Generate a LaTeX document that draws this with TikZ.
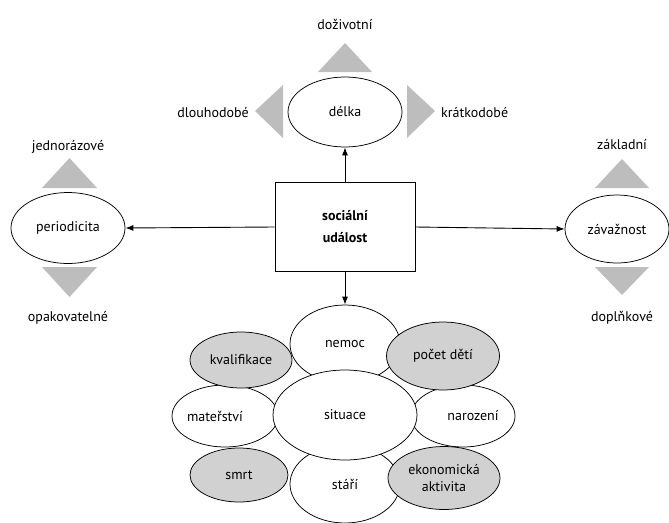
\documentclass[tikz,border=0pt]{standalone}
\usepackage{fontspec}
\setmainfont{PT Sans}
\usetikzlibrary{shapes.geometric,arrows.meta}
\begin{document}
\begin{tikzpicture}[x=1pt,y=-1pt,
  lbl/.style={font=\fontsize{14}{16}\selectfont, inner sep=0pt},
  oval/.style={ellipse, draw, line width=0.75pt, fill=white, inner sep=0pt, font=\fontsize{14}{16}\selectfont, align=center},
  goval/.style={oval, fill=gray!36},
  tri/.style={fill=gray!52, draw=none},
  conn/.style={line width=0.9pt, -{Latex[length=8pt,width=6pt]}}]
\useasboundingbox (0,0) rectangle (669,522);
% central box
\node[draw, line width=0.9pt, minimum width=140pt, minimum height=89pt, align=center,
  font=\fontsize{14}{22}\selectfont\bfseries] (box) at (345,227) {sociální\\událost};
% top
\node[oval, minimum width=114pt, minimum height=70pt] (delka) at (345,112) {délka};
\node[lbl] (doz) at (345,24) {doživotní};
\node[lbl, anchor=east] (dlo) at (249,113) {dlouhodobé};
\node[lbl, anchor=west] (kra) at (441,113) {krátkodobé};
\fill[tri] (318,72) -- (372,72) -- (345,43) -- cycle;
\fill[tri] (283,85) -- (283,138) -- (255,111) -- cycle;
\fill[tri] (407,85) -- (407,138) -- (435,111) -- cycle;
% left
\node[oval, minimum width=114pt, minimum height=71pt] (per) at (68,228) {periodicita};
\node[lbl] (jed) at (68,147) {jednorázové};
\node[lbl] (opa) at (68,318) {opakovatelné};
\fill[tri] (42,188) -- (97,188) -- (69.5,158) -- cycle;
\fill[tri] (42,267) -- (97,267) -- (69.5,297) -- cycle;
% right
\node[oval, minimum width=104pt, minimum height=68pt] (zav) at (617,229) {závažnost};
\node[lbl] (zak) at (622,145) {základní};
\node[lbl] (dop) at (622,318) {doplňkové};
\fill[tri] (595,188) -- (649,188) -- (622,159) -- cycle;
\fill[tri] (595,267) -- (649,267) -- (622,295) -- cycle;
% bottom cluster
\node[oval, minimum width=110pt, minimum height=78pt] (nemoc) at (345,344) {\raisebox{1pt}{nemoc}};
\node[oval, minimum width=110pt, minimum height=78pt] (stari) at (345,484) {\raisebox{-6pt}{stáří}};
\node[oval, minimum width=106pt, minimum height=62pt] (mat) at (225,416) {\hspace*{-20pt}mateřství};
\node[oval, minimum width=104pt, minimum height=62pt] (nar) at (463,416) {\hspace*{20pt}narození};
\node[goval, minimum width=102pt, minimum height=56pt] (kval) at (241,360) {kvalifikace};
\node[goval, minimum width=113pt, minimum height=68pt] (pocet) at (443,356) {počet dětí};
\node[goval, minimum width=98pt, minimum height=54pt] (smrt) at (239,475) {smrt};
\node[goval, minimum width=112pt, minimum height=63pt, font=\fontsize{14}{17}\selectfont] (eko) at (444,478) {ekonomická\\aktivita};
\node[oval, minimum width=144pt, minimum height=90pt] (sit) at (345,415) {situace};
% connectors
\draw[conn] (box.north) -- (delka.south);
\draw[conn] (box.west) -- (per.east);
\draw[conn] (box.east) -- (zav.west);
\draw[conn] (box.south) -- (nemoc.north);
\end{tikzpicture}
\end{document}
